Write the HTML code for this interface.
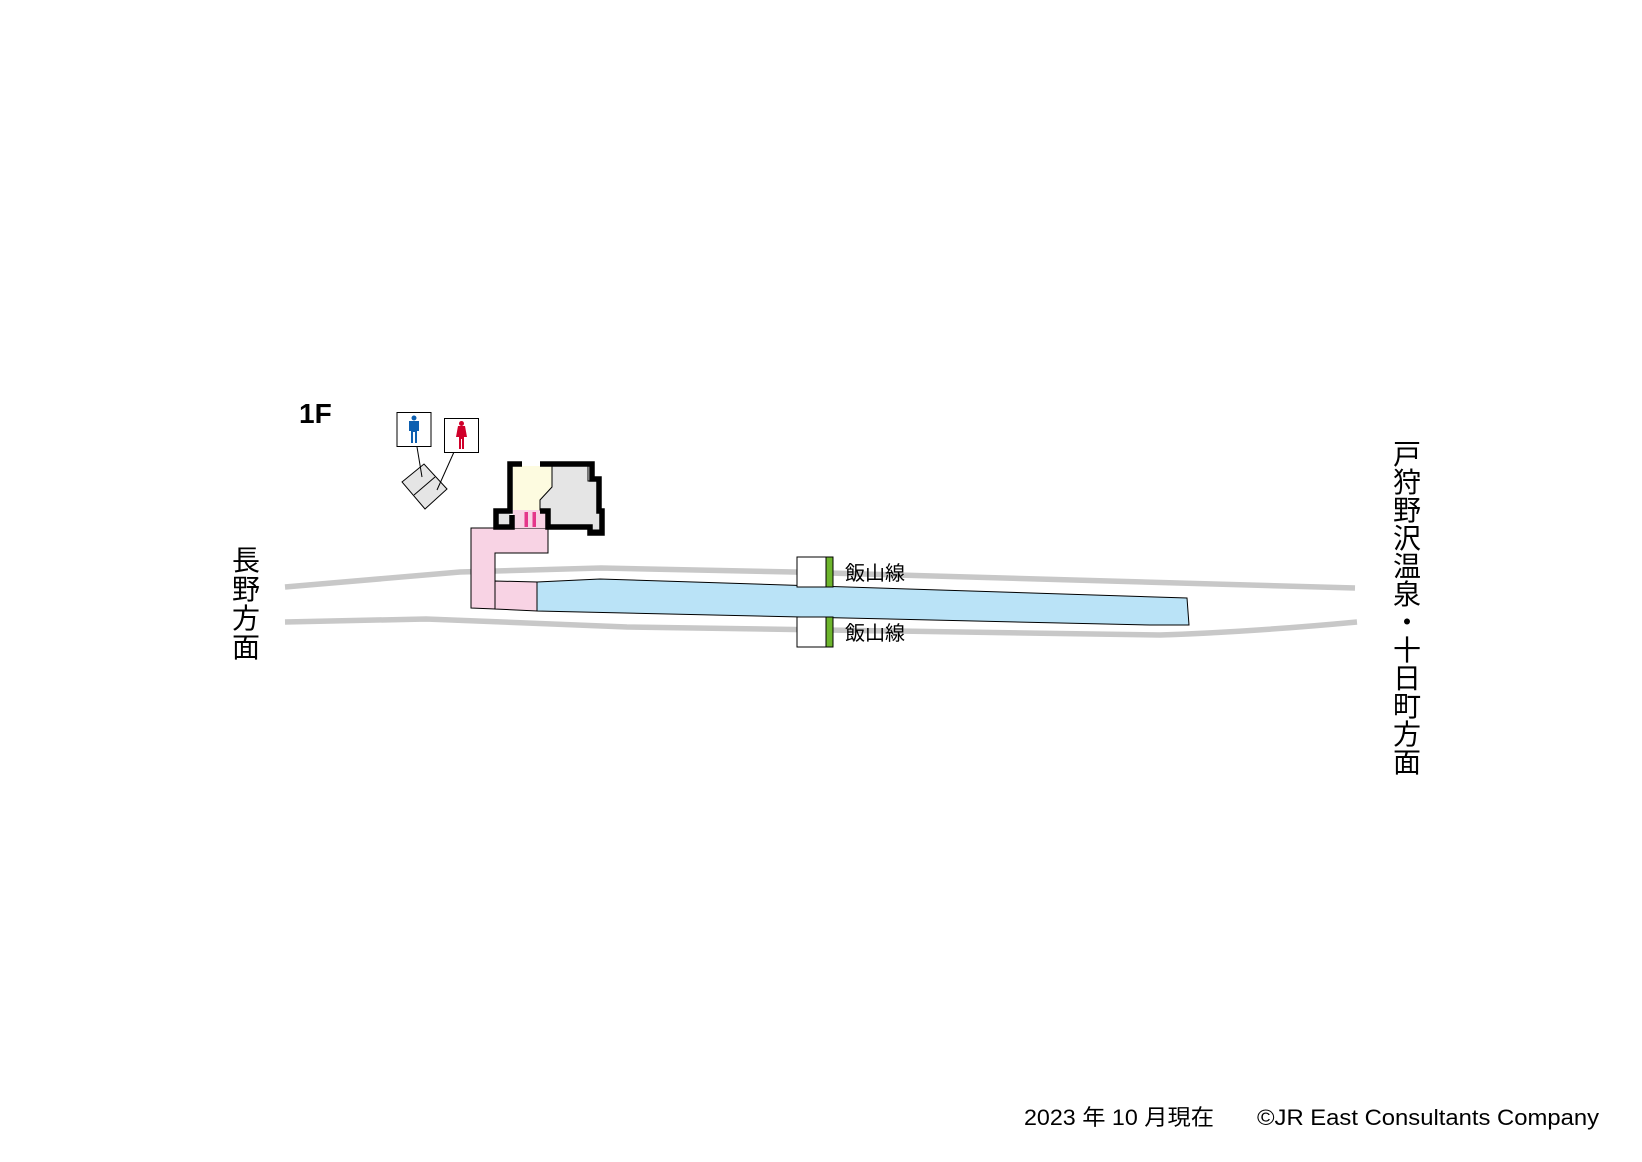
<!DOCTYPE html>
<html><head><meta charset="utf-8"><style>
html,body{margin:0;padding:0;background:#fff;}
svg{display:block;}
text{font-family:"Liberation Sans","Noto Sans CJK JP",sans-serif;fill:#000;}
</style></head><body>
<svg width="1642" height="1162" viewBox="0 0 1642 1162" xmlns="http://www.w3.org/2000/svg">
<!-- tracks -->
<path d="M285,587 L460,572 L601,568 L794,572 L1355,588" fill="none" stroke="#c8c8c8" stroke-width="5.5"/>
<path d="M285,622 L426,619 L627,627 L1160,635 Q1250,632 1357,622" fill="none" stroke="#c8c8c8" stroke-width="5.5"/>
<!-- platform -->
<path d="M537,582 L600,579 L1187,598 L1189,625 L1150,625 L537,611 Z" fill="#bae3f7" stroke="#000" stroke-width="1"/>
<path d="M495,581 L537,582 L537,611 L495,609 Z" fill="#f8d3e4" stroke="#000" stroke-width="1"/>
<path d="M471,528 L548,528 L548,553 L495,553 L495,609 L471,608 Z" fill="#f8d3e4" stroke="#000" stroke-width="1"/>
<!-- building fills -->
<rect x="513" y="510" width="35" height="18" fill="#f8d3e4"/>
<path d="M513,466 L552,466 L552,487 L540,500 L540,510 L513,510 Z" fill="#fdfbe0"/>
<path d="M552,466 L588,466 L588,481 L598,481 L598,513 L600,513 L600,530 L588,530 L588,527 L550,527 L550,510 L540,510 L540,500 L552,487 Z" fill="#e5e5e5" stroke="#000" stroke-width="1"/>
<rect x="497" y="513" width="13" height="11" fill="#e5e5e5"/>
<!-- walls -->
<path d="M522,464 L510,464 L510,511 L496,511 L496,527 L512,527 L512,515" fill="none" stroke="#000" stroke-width="5.5"/>
<path d="M540,464 L592,464 L592,479 L599,479 L599,511 L602,511 L602,533 L590,533 L590,527 L548,527 L548,511 L540,511" fill="none" stroke="#000" stroke-width="5.5"/>
<rect x="524.5" y="512" width="3.5" height="15" fill="#e4368a"/>
<rect x="532.5" y="512" width="3.5" height="15" fill="#e4368a"/>
<!-- toilet -->
<path d="M402,482 L424,464 L447,489 L425,509 Z" fill="#e5e5e5" stroke="#000" stroke-width="1"/>
<line x1="414" y1="495" x2="435" y2="477" stroke="#000" stroke-width="1"/>
<line x1="417" y1="447" x2="422" y2="477" stroke="#000" stroke-width="1"/>
<line x1="454" y1="452" x2="437" y2="490" stroke="#000" stroke-width="1"/>
<rect x="397" y="412.5" width="34" height="34" fill="#fff" stroke="#000" stroke-width="1"/>
<rect x="444.5" y="418.5" width="34" height="34" fill="#fff" stroke="#000" stroke-width="1"/>
<g fill="#0d5fb0">
<circle cx="414" cy="418" r="2.5"/>
<path d="M409,421 L419,421 L419,431 L417,431 L417,443 L415,443 L415,432 L413,432 L413,443 L411,443 L411,431 L409,431 Z"/>
</g>
<g fill="#d0002a">
<circle cx="461.5" cy="423.5" r="2.5"/>
<path d="M458,426 L465,426 L467,437 L464,437 L464,449 L462,449 L462,439 L461,439 L461,449 L459,449 L459,437 L456,437 Z"/>
</g>
<!-- line labels -->
<rect x="797" y="557" width="29" height="30" fill="#fff" stroke="#000" stroke-width="1"/>
<rect x="826" y="557" width="7" height="30" fill="#6db52d" stroke="#000" stroke-width="1"/>
<text x="845" y="580" font-size="20">飯山線</text>
<rect x="797" y="617" width="29" height="30" fill="#fff" stroke="#000" stroke-width="1"/>
<rect x="826" y="617" width="7" height="30" fill="#6db52d" stroke="#000" stroke-width="1"/>
<text x="845" y="640" font-size="20">飯山線</text>
<!-- labels -->
<text x="299" y="423" font-size="28" font-weight="bold">1F</text>
<g font-size="28" text-anchor="middle">
<text x="246" y="570">長</text><text x="246" y="599">野</text><text x="246" y="628">方</text><text x="246" y="657">面</text>
<text x="1407" y="464">戸</text><text x="1407" y="492">狩</text><text x="1407" y="520">野</text><text x="1407" y="548">沢</text><text x="1407" y="576">温</text><text x="1407" y="604">泉</text><text x="1407" y="632">・</text><text x="1407" y="660">十</text><text x="1407" y="688">日</text><text x="1407" y="716">町</text><text x="1407" y="744">方</text><text x="1407" y="772">面</text>
</g>
<text x="1024" y="1125" font-size="22" textLength="190" lengthAdjust="spacingAndGlyphs">2023 年 10 月現在</text>
<text x="1257" y="1125" font-size="22" textLength="342" lengthAdjust="spacingAndGlyphs">©JR East Consultants Company</text>
</svg>
</body></html>
